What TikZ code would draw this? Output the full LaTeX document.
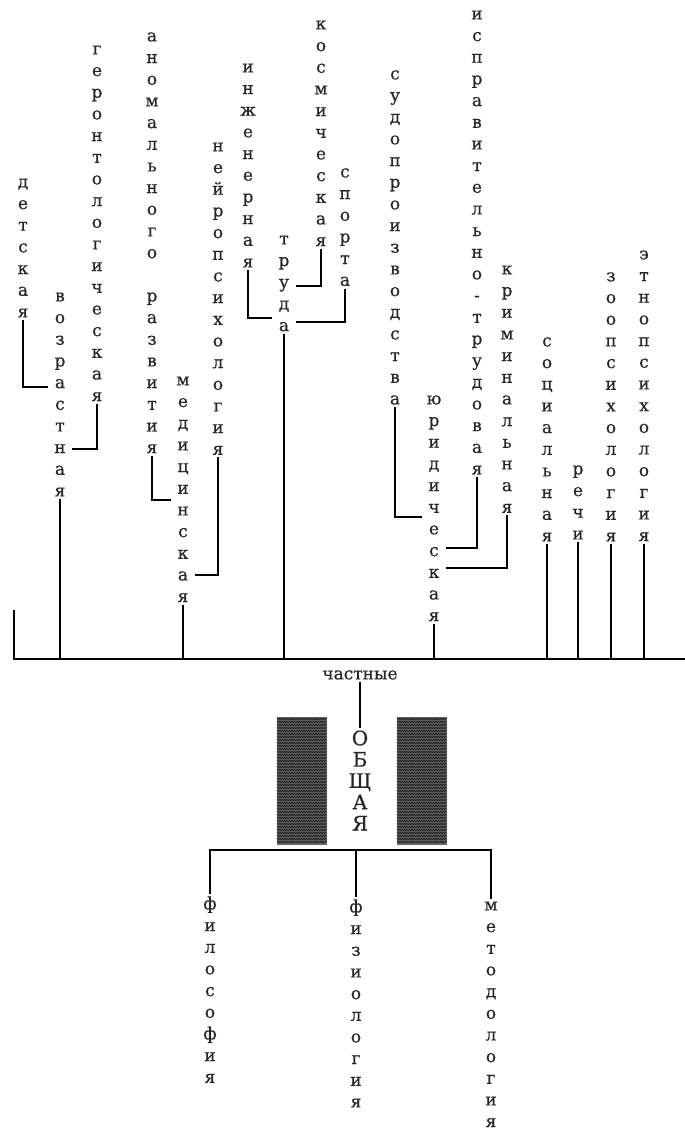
\documentclass[tikz,border=0pt]{standalone}
\usepackage{fontspec}
\setmainfont[FakeBold=0.5]{DejaVu Serif}
\usetikzlibrary{decorations.pathmorphing}

\newcommand\vword[1]{\vtop{\lineskiplimit=-\maxdimen\vwordloop#1\relax}}
\def\vwordloop#1{\ifx\relax#1\else\hbox to 18pt{\hss#1\hss}\expandafter\vwordloop\fi}

\begin{document}
\begin{tikzpicture}[x=1pt,y=-1pt,line width=1.4pt,
  vw/.style={anchor=base,yshift=-4.4pt,inner sep=2pt,text=black!85,font=\fontsize{17}{21.67}\selectfont},
  hatch/.style={line width=0.9pt,black!85,decorate,
    decoration={zigzag,segment length=2.4pt,amplitude=0.7pt}}]
  \useasboundingbox (0,0) rectangle (685,1128);
  \node[vw] (det)   at (23,183)  {\vword{детская}};
  \node[vw] (voz)   at (60,297)  {\vword{возрастная}};
  \node[vw] (ger)   at (97,50)   {\vword{геронтологическая}};
  \node[vw] (anom)  at (152,37)  {\vword{аномального~развития}};
  \node[vw] (med)   at (183,381) {\vword{медицинская}};
  \node[vw] (neir)  at (218,147) {\vword{нейропсихология}};
  \node[vw] (inzh)  at (248,68)  {\vword{инженерная}};
  \node[vw] (trud)  at (284,240) {\vword{труда}};
  \node[vw] (kosm)  at (321,25)  {\vword{космическая}};
  \node[vw] (sport) at (345,173) {\vword{спорта}};
  \node[vw] (sud)   at (395,75)  {\vword{судопроизводства}};
  \node[vw] (jur)   at (434,400) {\vword{юридическая}};
  \node[vw] (ispr)  at (477,15)  {\vword{исправительно-трудовая}};
  \node[vw] (krim)  at (507,270) {\vword{криминальная}};
  \node[vw] (soc)   at (547,342) {\vword{социальная}};
  \node[vw] (rech)  at (578,470) {\vword{речи}};
  \node[vw] (zoo)   at (611,277) {\vword{зоопсихология}};
  \node[vw] (etno)  at (644,255) {\vword{этнопсихология}};
  \node[vw] (chast) at (360,675) {частные};
  \node[vw,yshift=-2.9pt,font=\fontsize{20}{21.3}\selectfont] (obsh) at (360,738) {\vword{ОБЩАЯ}};
  \node[vw] (fil)   at (210,905) {\vword{философия}};
  \node[vw] (fiz)   at (356,908) {\vword{физиология}};
  \node[vw] (met)   at (491,906) {\vword{методология}};
  \coordinate (L) at (13,659); \coordinate (R) at (685,659);
  \coordinate (stub) at (14,610); \coordinate (bar) at (356,850);
  \draw (L) -- (R); \draw (stub) -- (stub |- L);
  \foreach \n in {voz,med,trud,jur,soc,rech,zoo,etno}
    \draw (\n.south) -- (\n.south |- L);
  \foreach \a/\b/\y in {det/voz.west/387,ger/voz.east/449,anom/med.west/500,
      neir/med.east/575,inzh/trud.west/318,kosm/trud.east/286,sport/trud.east/322,
      sud/jur.west/517,ispr/jur.east/548,krim/jur.east/568}
    \draw (\a.south) |- (\b |- 0,\y);
  \draw (chast.south) -- (obsh.north);
  \foreach \x in {277,397} {
    \fill[black!60] (\x,717) rectangle ++(50,128);
    \foreach \y in {719,722,...,843} \draw[hatch] (\x,\y) -- ++(50,0);
  }
  \draw (fil.north) |- (bar) -| (met.north);
  \draw (bar) -- (fiz.north);
\end{tikzpicture}
\end{document}
